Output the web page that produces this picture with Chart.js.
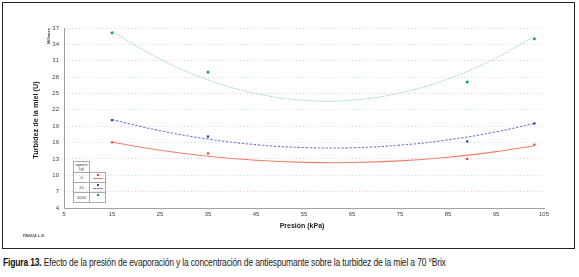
<!DOCTYPE html>
<html>
<head>
<meta charset="utf-8">
<script src="https://cdn.jsdelivr.net/npm/chart.js@4/dist/chart.umd.min.js"></script>
<style>
  body { margin: 0; background: #fff; width: 579px; height: 277px; position: relative; overflow: hidden; font-family: "Liberation Sans", Arial, sans-serif; }
  #frame { position: absolute; left: 2px; top: 2px; width: 571px; height: 245px; border: 1.5px solid #222; }
  #wrap { position: absolute; left: 0; top: 0; width: 579px; height: 250px; }
  .ytitle { position: absolute; left: 35px; top: 120px; transform: translate(-50%, -50%) rotate(-90deg); font-size: 7.3px; font-weight: bold; color: #222; white-space: nowrap; }
  .unit { position: absolute; left: 48px; top: 36px; transform: translate(-50%, -50%) rotate(-90deg); font-size: 4px; font-weight: bold; color: #333; white-space: nowrap; }
  .xtitle { position: absolute; left: 302px; top: 222px; transform: translateX(-50%); font-size: 7px; font-weight: bold; color: #222; white-space: nowrap; }
  .author { position: absolute; left: 23px; top: 233px; font-size: 4px; font-weight: bold; color: #555; }
  .caption { position: absolute; left: 3px; top: 256px; font-family: "Liberation Sans", sans-serif; font-size: 10.5px; color: #222; white-space: nowrap; letter-spacing: -0.2px; transform: scaleX(0.81); transform-origin: 0 0; }
  .caption b { color: #111; }
  table.leg { position: absolute; left: 73px; top: 161px; border-collapse: collapse; font-size: 4px; color: #444; }
  table.leg td { border: 0.8px solid #aaa; width: 15px; height: 9px; text-align: center; padding: 0; line-height: 4px; }
  table.leg td.hd { height: 10px; }
  .sw { position: relative; display: inline-block; width: 10px; height: 6px; }
  .sw i { position: absolute; left: 4px; top: 0; width: 2px; height: 2px; }
  .sw s { position: absolute; left: 0; top: 4px; width: 10px; height: 0; border-top: 1px solid; }
</style>
</head>
<body>
<div id="frame"></div>
<div id="wrap"><canvas id="turbidez" width="579" height="250"></canvas></div>
<div class="ytitle">Turbidez de la miel (U)</div>
<div class="unit">Millones</div>
<div class="xtitle">Presión (kPa)</div>
<div class="author">PANDA L.E.</div>
<table class="leg">
  <tr><td class="hd">agente<br>(g)</td><td style="border:none"></td></tr>
  <tr><td>0</td><td><span class="sw"><i style="background:#e8503a"></i><s style="border-color:#f0806c"></s></span></td></tr>
  <tr><td>20</td><td><span class="sw"><i style="background:#3c3ca8"></i><s style="border-color:#8080d8;border-top-style:dashed"></s></span></td></tr>
  <tr><td>2000</td><td><span class="sw"><i style="background:#11a050"></i></span></td></tr>
</table>
<div class="caption"><b>Figura 13.</b> Efecto de la presión de evaporación y la concentración de antiespumante sobre la turbidez de la miel a 70 °Brix</div>
<script>
const presion = [15, 35, 89, 103]
const turbidez0 = [16.05, 14.0, 13.0, 15.6]
const turbidez20 = [20.1, 17.1, 16.2, 19.5]
const turbidez2000 = [36.1, 28.9, 27.1, 35.0]

// trend curves
const trendPresion = [15, 25, 35, 45, 55, 65, 75, 85, 95, 103]
const trend0 = [16.05, 14.6, 13.5, 12.76, 12.37, 12.33, 12.64, 13.31, 14.33, 15.4]
const trend20 = [20.2, 18.17, 16.64, 15.61, 15.08, 15.05, 15.52, 16.49, 17.96, 19.5]
const trend2000 = [36.4, 31.3, 27.5, 25.0, 23.75, 23.77, 25.1, 27.65, 31.5, 35.5]

const yTicks = [4, 7, 10, 13, 16, 19, 22, 25, 28, 31, 34, 37]
const xTicks = [5, 15, 25, 35, 45, 55, 65, 75, 85, 95, 105]

const pts = (xs, ys) => xs.map((x, i) => ({ x: x, y: ys[i] }))

const ctx = document.getElementById('turbidez').getContext('2d')

new Chart(ctx, {
  type: 'scatter',
  data: {
    datasets: [{
      label: '0',
      data: pts(presion, turbidez0),
      pointStyle: 'rect',
      pointRadius: 1.6,
      backgroundColor: '#e8503a',
      borderColor: '#e8503a',
      borderWidth: 0
    },
    {
      label: '20',
      data: pts(presion, turbidez20),
      pointStyle: 'rect',
      pointRadius: 1.6,
      backgroundColor: '#3c3ca8',
      borderColor: '#3c3ca8',
      borderWidth: 0
    },
    {
      label: '2000',
      data: pts(presion, turbidez2000),
      pointStyle: 'rect',
      pointRadius: 1.8,
      backgroundColor: '#11a050',
      borderColor: '#11a050',
      borderWidth: 0
    },
    {
      label: 'trend 0',
      data: pts(trendPresion, trend0),
      showLine: true,
      pointRadius: 0,
      tension: 0.4,
      borderColor: '#f0806c',
      borderWidth: 1.1
    },
    {
      label: 'trend 20',
      data: pts(trendPresion, trend20),
      showLine: true,
      pointRadius: 0,
      tension: 0.4,
      borderColor: '#7a7ad6',
      borderWidth: 1.1,
      borderDash: [2.5, 1.5]
    },
    {
      label: 'trend 2000',
      data: pts(trendPresion, trend2000),
      showLine: true,
      pointRadius: 0,
      tension: 0.4,
      borderColor: '#9ad4c4',
      borderWidth: 1,
      borderDash: [1.5, 1]
    }]
  },
  options: {
    responsive: false,
    animation: false,
    layout: { padding: { left: 34, right: 35, top: 28, bottom: 28 } },
    plugins: { legend: { display: false }, tooltip: { enabled: false } },
    scales: {
      x: {
        type: 'linear',
        min: 5,
        max: 105,
        afterBuildTicks: axis => { axis.ticks = xTicks.map(v => ({ value: v })) },
        afterFit: axis => { axis.height = 14 },
        grid: { display: false, drawTicks: false },
        border: { color: '#a0a0a0', width: 1 },
        ticks: { font: { size: 6, family: 'Liberation Sans' }, color: '#444', padding: 3, maxRotation: 0 }
      },
      y: {
        min: 4,
        max: 37,
        afterBuildTicks: axis => { axis.ticks = yTicks.map(v => ({ value: v })) },
        afterFit: axis => { axis.width = 30 },
        grid: {
          color: ctx => ctx.index % 2 ? '#f2bfe0' : '#b8e6ec',
          lineWidth: 1,
          drawTicks: false
        },
        border: { color: '#a0a0a0', width: 1, dash: [1, 2.5] },
        ticks: { font: { size: 6, family: 'Liberation Sans' }, color: '#444', padding: 5 }
      }
    }
  }
})
</script>
</body>
</html>
